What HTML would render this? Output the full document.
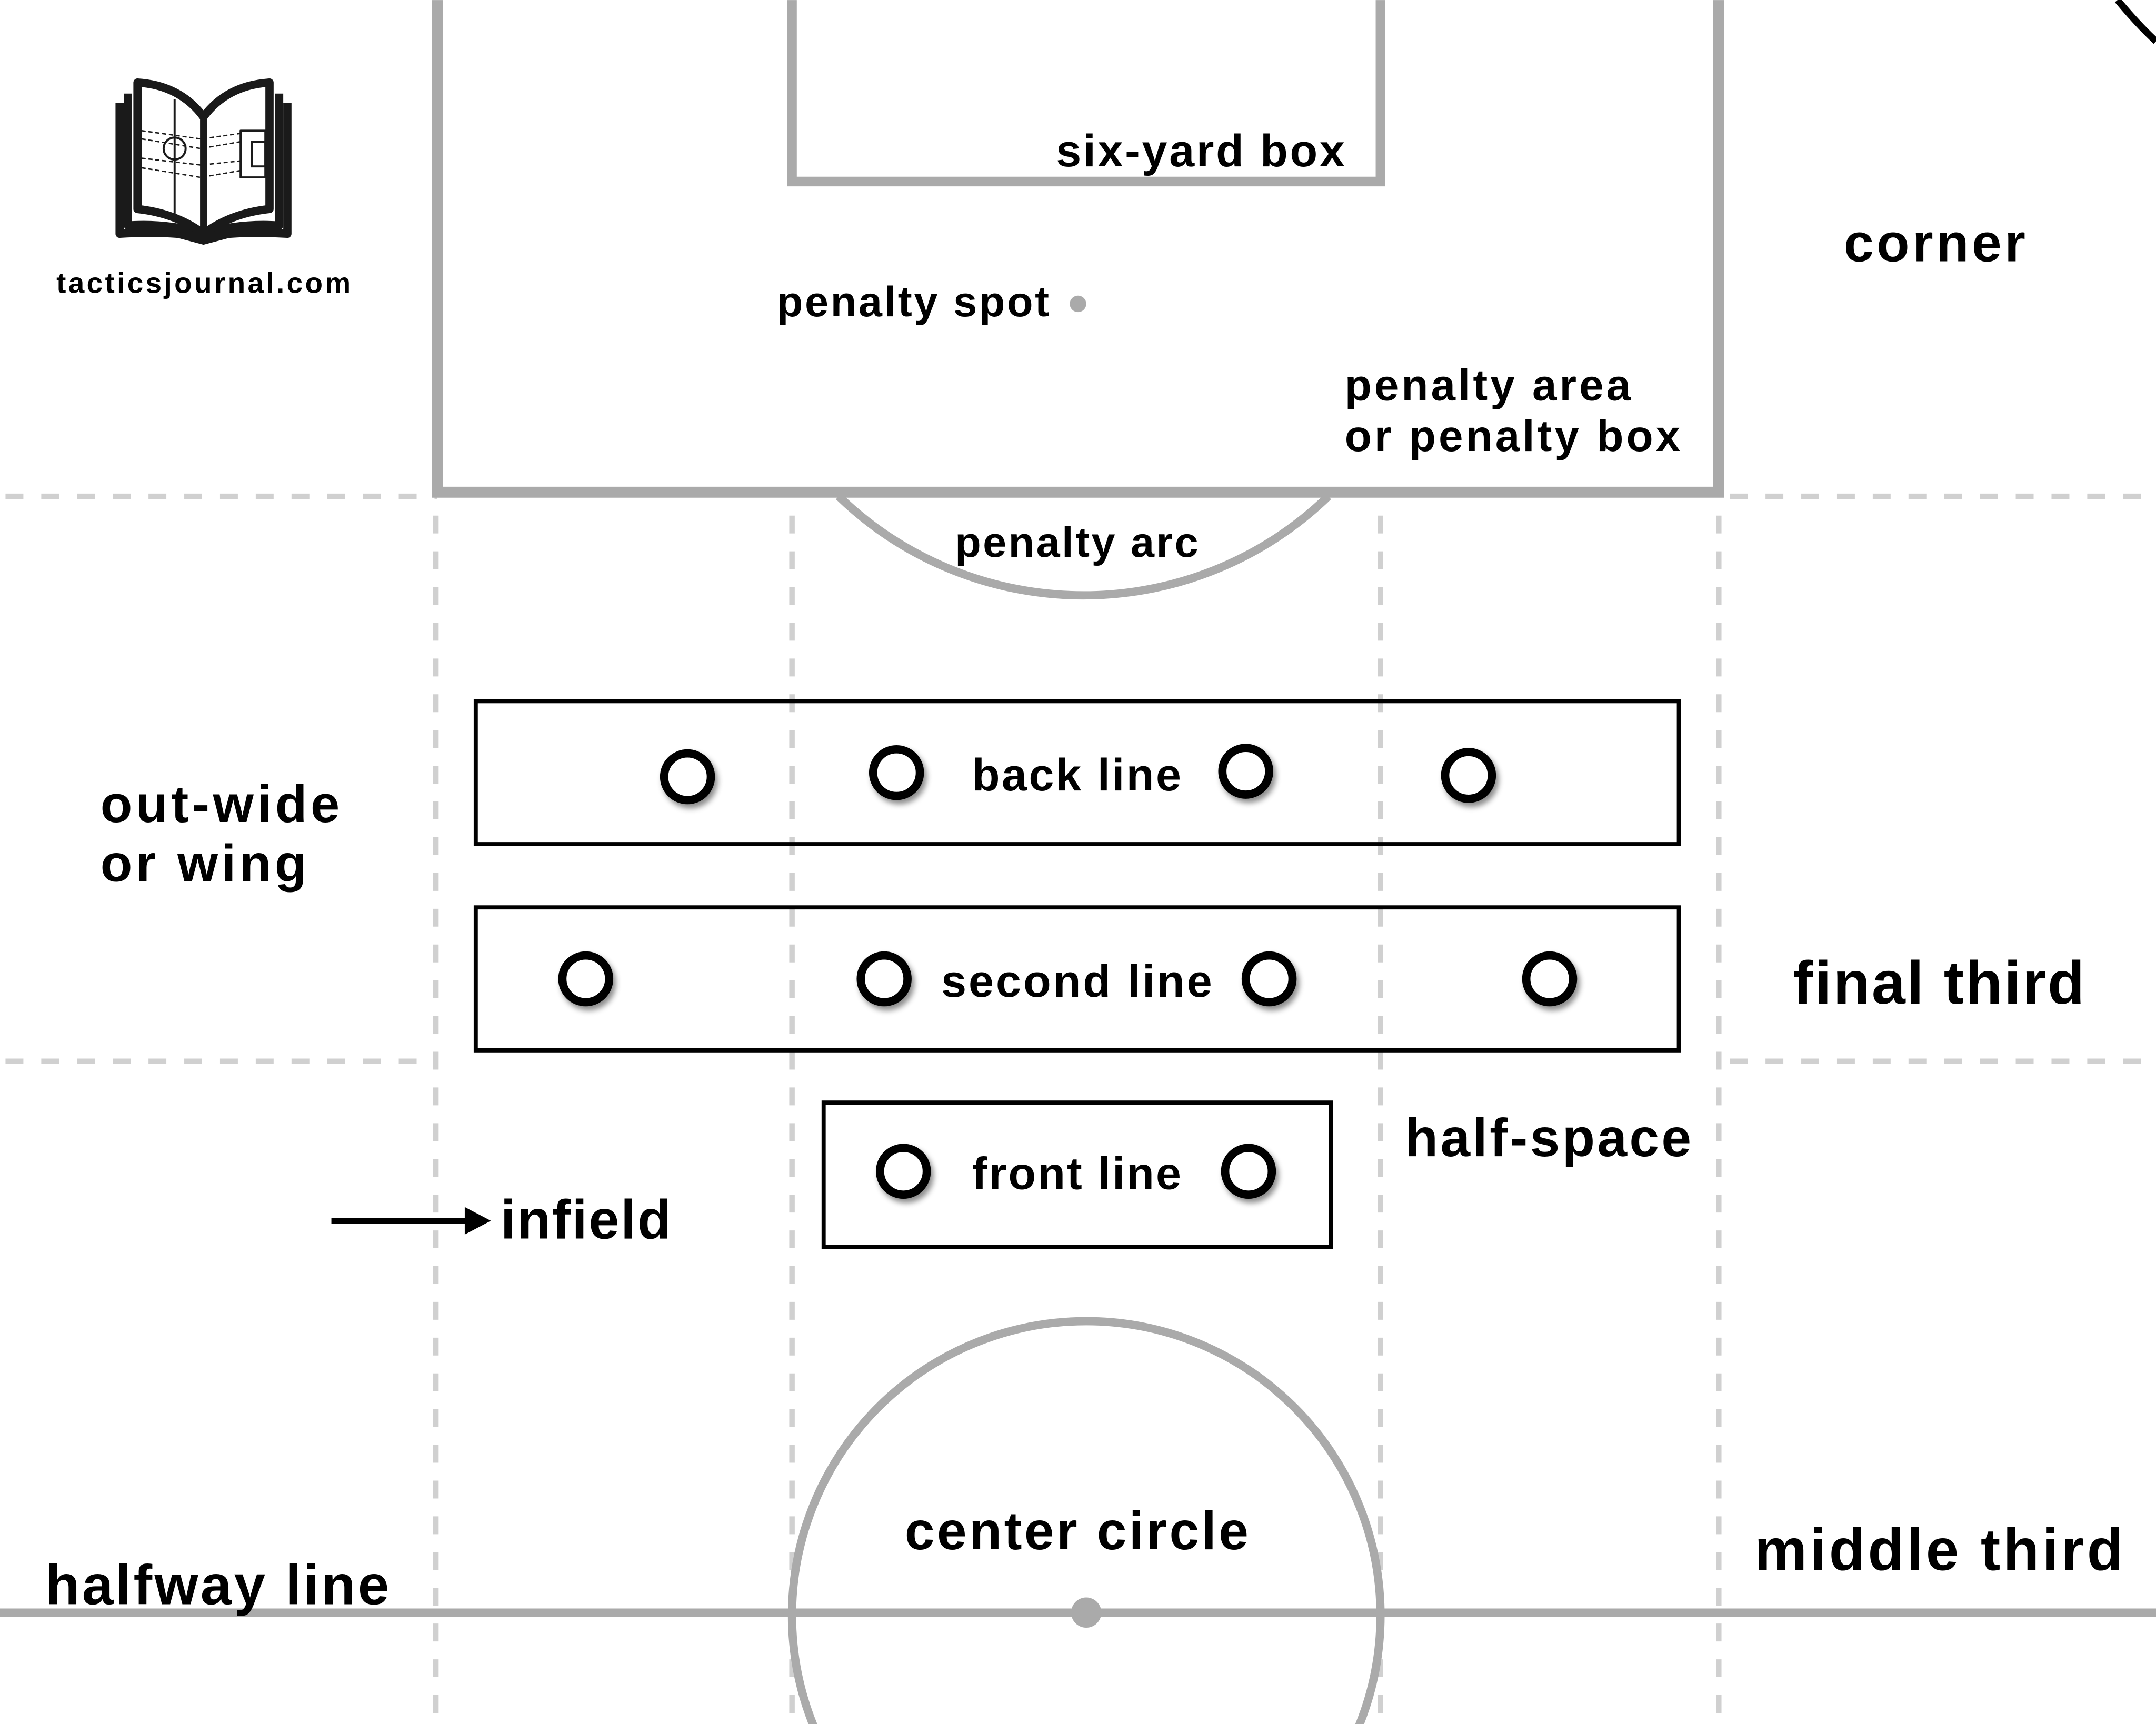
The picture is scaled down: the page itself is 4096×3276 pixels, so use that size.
<!DOCTYPE html>
<html><head><meta charset="utf-8"><style>
html,body{margin:0;padding:0;background:#fff;width:4096px;height:3276px;overflow:hidden}
svg{display:block}
text{font-family:"Liberation Sans",sans-serif;font-weight:bold;fill:#000}
</style></head><body>
<svg width="4096" height="3276" viewBox="0 0 1568 1254" xmlns="http://www.w3.org/2000/svg">
<rect width="1568" height="1254" fill="#fff"/>
<g stroke="#d0d0d0" stroke-width="4" stroke-dasharray="13 13" fill="none">
<line x1="4" y1="361" x2="318" y2="361"/>
<line x1="1258" y1="361" x2="1568" y2="361"/>
<line x1="4" y1="772" x2="318" y2="772"/>
<line x1="1258" y1="772" x2="1568" y2="772"/>
<line x1="317" y1="375" x2="317" y2="1254"/>
<line x1="576" y1="375" x2="576" y2="1254"/>
<line x1="1004" y1="375" x2="1004" y2="1254"/>
<line x1="1250" y1="375" x2="1250" y2="1254"/>
</g>
<g stroke="#aaa" fill="none">
<path d="M318 0 V358 H1250 V0" stroke-width="8"/>
<path d="M576 0 V132 H1004 V0" stroke-width="7"/>
<path d="M610 361 A256 256 0 0 0 966 361" stroke-width="6"/>
<line x1="0" y1="1173" x2="1568" y2="1173" stroke-width="6"/>
<circle cx="790" cy="1175" r="214" stroke-width="6"/>
</g>
<circle cx="784" cy="221" r="6" fill="#aaa"/>
<circle cx="790" cy="1173" r="11" fill="#aaa"/>
<path d="M1540 0 Q1555 18 1568 30" stroke="#000" stroke-width="5" fill="none"/>
<g stroke="#000" stroke-width="3" fill="none">
<rect x="346" y="510" width="875" height="104"/>
<rect x="346" y="660" width="875" height="104"/>
<rect x="599" y="802" width="369" height="105"/>
</g>
<defs><filter id="sh" x="-50%" y="-50%" width="200%" height="200%"><feDropShadow dx="2" dy="3" stdDeviation="2" flood-opacity="0.45"/></filter></defs>
<g stroke="#000" stroke-width="6" fill="#fff" filter="url(#sh)">
<circle cx="500" cy="565" r="17"/><circle cx="652" cy="562" r="17"/>
<circle cx="906" cy="561" r="17"/><circle cx="1068" cy="564" r="17"/>
<circle cx="426" cy="712" r="17"/><circle cx="643" cy="712" r="17"/>
<circle cx="923" cy="712" r="17"/><circle cx="1127" cy="712" r="17"/>
<circle cx="657" cy="852" r="17"/><circle cx="908" cy="852" r="17"/>
</g>
<line x1="241" y1="888" x2="345" y2="888" stroke="#000" stroke-width="4"/>
<path d="M338 878 L357 888 L338 898 Z" fill="#000"/>
<g fill="none" stroke="#1a1a1a" stroke-linejoin="round">
<path d="M87 75 V170 Q120 168 148 172 Q176 168 209 170 V75" stroke-width="6"/>
<path d="M93 68 V164 Q122 162 148 170 Q174 162 203 164 V68" stroke-width="6"/>
<path d="M100 60 V152 Q128 155 148 170 Q168 155 196 152 V60 Q165 62 148 85 Q131 62 100 60 Z" stroke-width="6" fill="#fff"/>
<line x1="148" y1="85" x2="148" y2="170" stroke-width="5"/>
<line x1="127" y1="72" x2="127" y2="160" stroke-width="1.5"/>
<circle cx="127" cy="108" r="8" stroke-width="1.5"/>
<path d="M103 95 L146 101 L175 97 M103 101 L146 108 L175 103 M103 115 L146 120 L175 117 M103 122 L146 129 L175 124" stroke-width="1" stroke-dasharray="3 2"/>
<rect x="175" y="95" width="18" height="34" stroke-width="1.5"/>
<rect x="183" y="103" width="10" height="18" stroke-width="1.5"/>
</g>
<path d="M118 170 L148 178 L178 170 Z" fill="#1a1a1a"/>
<text x="148" y="213" font-size="21" text-anchor="middle" textLength="214">tacticsjournal.com</text>
<text x="873" y="121" font-size="33" text-anchor="middle" textLength="210">six-yard box</text>
<text x="664" y="230" font-size="31" text-anchor="middle" textLength="198">penalty spot</text>
<text x="1407" y="190" font-size="39" text-anchor="middle" textLength="132">corner</text>
<text x="978" y="291" font-size="32" textLength="208">penalty area</text>
<text x="978" y="328" font-size="32" textLength="244">or penalty box</text>
<text x="783" y="405" font-size="31" text-anchor="middle" textLength="177">penalty arc</text>
<text x="783" y="575" font-size="33" text-anchor="middle" textLength="152">back line</text>
<text x="783" y="725" font-size="33" text-anchor="middle" textLength="197">second line</text>
<text x="783" y="865" font-size="33" text-anchor="middle" textLength="152">front line</text>
<text x="73" y="598" font-size="38" textLength="174">out-wide</text>
<text x="73" y="641" font-size="38" textLength="150">or wing</text>
<text x="1410" y="730" font-size="44" text-anchor="middle" textLength="212">final third</text>
<text x="1126" y="841" font-size="39" text-anchor="middle" textLength="208">half-space</text>
<text x="364" y="901" font-size="40" textLength="124">infield</text>
<text x="783" y="1127" font-size="39" text-anchor="middle" textLength="250">center circle</text>
<text x="1410" y="1142" font-size="43" text-anchor="middle" textLength="268">middle third</text>
<text x="158" y="1167" font-size="41" text-anchor="middle" textLength="250">halfway line</text>
</svg>
</body></html>
